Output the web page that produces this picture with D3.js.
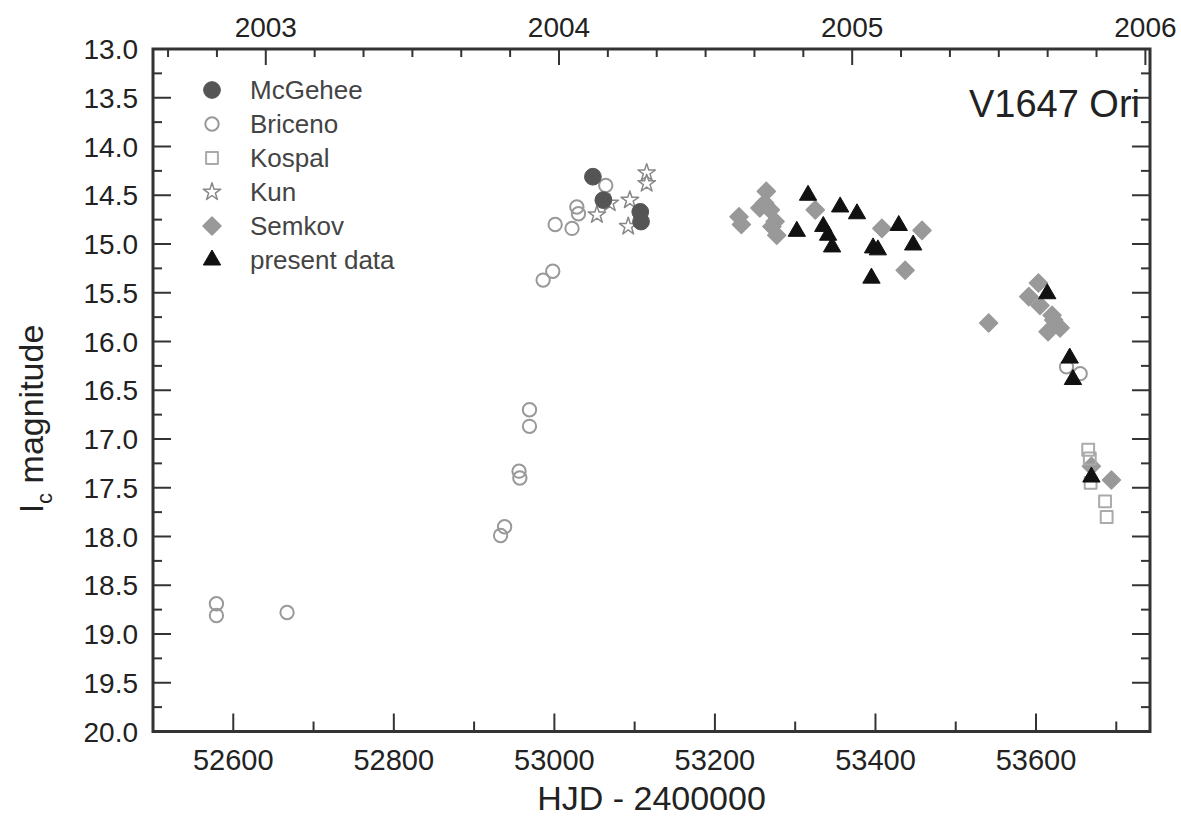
<!DOCTYPE html>
<html>
<head>
<meta charset="utf-8">
<script src="https://cdn.jsdelivr.net/npm/d3@7"></script>
<style>
  html, body { margin: 0; padding: 0; background: #fff; }
  svg { display: block; font-family: "Liberation Sans", Arial, Helvetica, sans-serif; }
</style>
</head>
<body>
<svg id="chart" width="1181" height="818"></svg>
<script>
// ---------- data (HJD - 2400000, Ic magnitude) ----------
const mcgeheeX = [53048, 53061, 53107, 53108];
const mcgeheeY = [14.31, 14.55, 14.67, 14.77];

const bricenoX = [52579, 52579, 52667, 52933, 52938, 52956, 52957, 52969, 52969, 52986, 52998, 53001, 53022, 53028, 53030, 53064, 53638, 53655];
const bricenoY = [18.69, 18.81, 18.78, 17.99, 17.90, 17.33, 17.40, 16.70, 16.87, 15.37, 15.28, 14.80, 14.84, 14.62, 14.69, 14.40, 16.26, 16.33];

const kospalX = [53665, 53667, 53668, 53686, 53688];
const kospalY = [17.11, 17.20, 17.45, 17.64, 17.80];

const kunX = [53115, 53115, 53069, 53053, 53094, 53092];
const kunY = [14.27, 14.38, 14.58, 14.70, 14.55, 14.82];

const semkovX = [53230, 53233, 53264, 53256, 53262, 53269, 53275, 53271, 53277, 53325, 53408, 53458, 53437, 53541, 53603, 53591, 53605, 53620, 53630, 53615, 53622, 53669, 53694];
const semkovY = [14.72, 14.80, 14.46, 14.63, 14.58, 14.65, 14.77, 14.82, 14.91, 14.65, 14.84, 14.86, 15.27, 15.81, 15.40, 15.54, 15.63, 15.73, 15.86, 15.90, 15.78, 17.28, 17.42];

const presentX = [53316, 53356, 53377, 53302, 53335, 53341, 53346, 53397, 53403, 53429, 53447, 53395, 53614, 53642, 53646, 53669];
const presentY = [14.50, 14.62, 14.69, 14.87, 14.82, 14.91, 15.03, 15.04, 15.06, 14.81, 15.01, 15.35, 15.51, 16.17, 16.39, 17.39];

const legendLabels = ["McGehee", "Briceno", "Kospal", "Kun", "Semkov", "present data"];
const xTickValues = [52600, 52800, 53000, 53200, 53400, 53600];
const yTickValues = [13.0, 13.5, 14.0, 14.5, 15.0, 15.5, 16.0, 16.5, 17.0, 17.5, 18.0, 18.5, 19.0, 19.5, 20.0];
const yearLabels = [2003, 2004, 2005, 2006];

// ---------- layout ----------
const L = 153, R = 1150, T = 49, B = 731.5;
const svg = d3.select("#chart");

const x = d3.scaleLinear().domain([52500, 53742]).range([L, R]);
const y = d3.scaleLinear().domain([13, 20]).range([T, B]);

// decimal year scale aligned with HJD axis (2003.0 = 52640.5)
const xYear = d3.scaleLinear()
  .domain([2003 + (52500 - 52640.5) / 365.25, 2003 + (53742 - 52640.5) / 365.25])
  .range([L, R]);

const axisColor = "#333";
const textColor = "#222";

// ---------- axes ----------
const gAx = svg.append("g");

// bottom ticks (major 200, minor 100)
const xMinor = d3.range(52600, 53742, 100);
gAx.selectAll(".xt").data(xMinor).join("line")
  .attr("x1", d => x(d)).attr("x2", d => x(d))
  .attr("y1", B).attr("y2", d => B - (d % 200 === 0 ? 18 : 10))
  .attr("stroke", axisColor).attr("stroke-width", 2);
gAx.selectAll(".xl").data(xTickValues).join("text")
  .attr("x", d => x(d)).attr("y", 770)
  .attr("text-anchor", "middle").attr("font-size", 29).attr("fill", textColor)
  .text(d => d);

// left and right ticks (major 0.5, minor 0.25)
const yMinor = d3.range(13.25, 20, 0.25);
[L, R].forEach(side => {
  const dir = side === L ? 1 : -1;
  gAx.selectAll(null).data(yMinor).join("line")
    .attr("x1", side).attr("x2", d => side + dir * (Math.abs(d * 2 - Math.round(d * 2)) < 1e-6 ? 18 : 9))
    .attr("y1", d => y(d)).attr("y2", d => y(d))
    .attr("stroke", axisColor).attr("stroke-width", 2);
});
gAx.selectAll(".yl").data(yTickValues).join("text")
  .attr("x", 138).attr("y", d => y(d)).attr("dy", "0.36em")
  .attr("text-anchor", "end").attr("font-size", 28).attr("fill", textColor)
  .text(d => d.toFixed(1));

// top axis: years with 2-month ticks
const yrTicks = d3.range(2002 + 4 / 6, 2006.01, 1 / 6).filter(v => xYear(v) > L + 1 && xYear(v) < R - 1);
gAx.selectAll(".tt").data(yrTicks).join("line")
  .attr("x1", d => xYear(d)).attr("x2", d => xYear(d))
  .attr("y1", T).attr("y2", d => T + (Math.abs(d - Math.round(d)) < 1e-6 ? 16 : 8))
  .attr("stroke", axisColor).attr("stroke-width", 2);
gAx.selectAll(".tl").data(yearLabels).join("text")
  .attr("x", d => xYear(d)).attr("y", 37)
  .attr("text-anchor", "middle").attr("font-size", 28).attr("fill", textColor)
  .text(d => d);

// frame
svg.append("rect").attr("x", L).attr("y", T).attr("width", R - L).attr("height", B - T)
  .attr("fill", "none").attr("stroke", axisColor).attr("stroke-width", 3);

// axis titles
svg.append("text").attr("x", (L + R) / 2).attr("y", 810)
  .attr("text-anchor", "middle").attr("font-size", 34).attr("fill", textColor)
  .text("HJD - 2400000");
const yt = svg.append("text").attr("transform", "translate(43,419) rotate(-90)")
  .attr("text-anchor", "middle").attr("font-size", 34).attr("fill", textColor);
yt.append("tspan").text("I");
yt.append("tspan").attr("font-size", 22).attr("dy", 9).text("c");
yt.append("tspan").attr("dy", -9).text(" magnitude");

// title
svg.append("text").attr("x", 1140).attr("y", 117).attr("text-anchor", "end")
  .attr("font-size", 38).attr("fill", textColor).text("V1647 Ori");

// ---------- markers ----------
const zip = (xs, ys) => xs.map((v, i) => ({ x: v, y: ys[i] }));
const diamondPath = "M0,-9L9,0L0,9L-9,0Z";
const styles = {
  McGehee: { path: d3.symbol(d3.symbolCircle, 220)(), fill: "#555", stroke: "#555", sw: 1 },
  Briceno: { path: d3.symbol(d3.symbolCircle, 140)(), fill: "none", stroke: "#999", sw: 2 },
  Kospal: { path: d3.symbol(d3.symbolSquare, 140)(), fill: "none", stroke: "#aaa", sw: 2 },
  Kun: { path: d3.symbol(d3.symbolStar, 95)(), fill: "#fff", stroke: "#888", sw: 1.5 },
  Semkov: { path: diamondPath, fill: "#999", stroke: "#999", sw: 1.5 },
  present: { path: d3.symbol(d3.symbolTriangle, 130)(), fill: "#111", stroke: "#111", sw: 1 }
};
const series = [
  ["Semkov", zip(semkovX, semkovY)],
  ["Kospal", zip(kospalX, kospalY)],
  ["Briceno", zip(bricenoX, bricenoY)],
  ["Kun", zip(kunX, kunY)],
  ["McGehee", zip(mcgeheeX, mcgeheeY)],
  ["present", zip(presentX, presentY)]
];
const gM = svg.append("g");
series.forEach(([name, pts]) => {
  const s = styles[name];
  gM.append("g").selectAll("path").data(pts).join("path")
    .attr("d", s.path)
    .attr("transform", d => `translate(${x(d.x)},${y(d.y)})`)
    .attr("fill", s.fill).attr("stroke", s.stroke).attr("stroke-width", s.sw)
    .attr("stroke-linejoin", "round");
});

// ---------- legend ----------
const legKeys = ["McGehee", "Briceno", "Kospal", "Kun", "Semkov", "present"];
const legY = [90, 124, 158, 192, 226, 260];
const gL = svg.append("g");
legKeys.forEach((k, i) => {
  const s = styles[k];
  gL.append("path").attr("d", s.path).attr("transform", `translate(212,${legY[i]})`)
    .attr("fill", s.fill).attr("stroke", s.stroke).attr("stroke-width", s.sw).attr("stroke-linejoin", "round");
  gL.append("text").attr("x", 250).attr("y", legY[i]).attr("dy", "0.36em")
    .attr("font-size", 26).attr("fill", "#444").text(legendLabels[i]);
});
</script>
</body>
</html>
